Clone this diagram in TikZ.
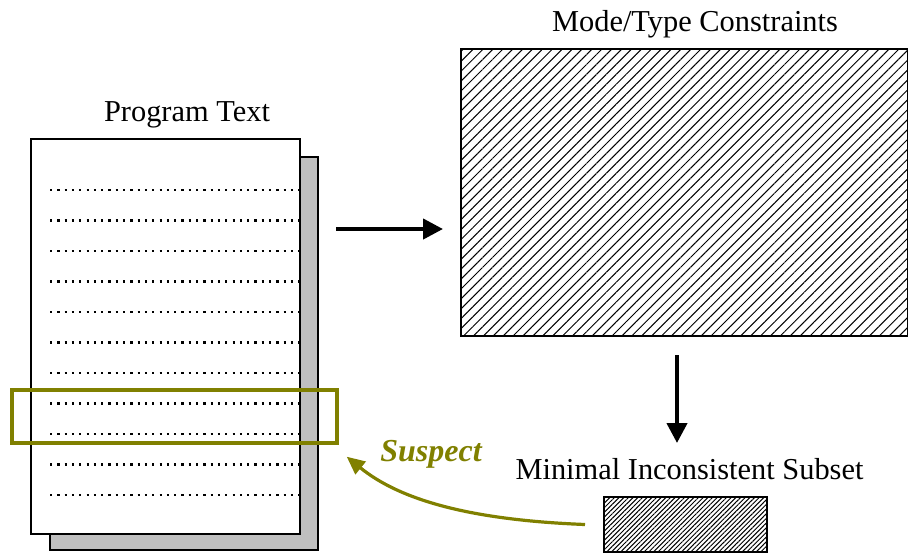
\documentclass[tikz,border=0pt]{standalone}
\usepackage{fontspec}
\setmainfont{Liberation Serif}
\usepackage{xcolor}
\usepackage{tikz}
\usetikzlibrary{arrows.meta, patterns.meta}
\definecolor{suspectcol}{RGB}{128,128,0}

\begin{document}
\begin{tikzpicture}[x=0.5pt, y=-0.5pt]
\tikzstyle{label}=[font=\fontsize{15.2}{18}\selectfont, inner sep=0pt, anchor=base]
\tikzstyle{sheet}=[draw, line width=1pt, inner sep=0pt, outer sep=0pt, minimum width=134.5pt, minimum height=197.5pt]
\tikzstyle{hatchbox}=[draw, line width=1pt, inner sep=0pt, outer sep=0pt]
\tikzstyle{dotline}=[line width=1.1pt, dash pattern=on 1.1pt off 2.55pt]
\tikzstyle{bigarrow}=[line width=2.1pt, -{Triangle[length=10pt, width=10pt]}]
\tikzstyle{suspectarrow}=[suspectcol, line width=1.6pt, -{Triangle[length=9pt, width=8pt]}]
\useasboundingbox (0,0) rectangle (908,552);

% program text pages
\node[sheet, fill=gray!50, minimum width=134pt, minimum height=196.5pt] (shadow) at (184,353.5) {};
\node[sheet, fill=white] (page) at (165.5,336.5) {};
\node[label] (ptext) at (187,121) {Program Text};
\foreach \i in {0,...,10}
  \draw[dotline] (50,190+30.5*\i) -- (300,190+30.5*\i);

% suspect lines
\node[draw=suspectcol, line width=1.7pt, inner sep=0pt, minimum width=162.5pt, minimum height=26.5pt] (suspbox) at (174.5,416.5) {};

% constraints
\node[hatchbox, pattern={Lines[angle=45, distance=3.5pt, line width=0.5pt]}, minimum width=223.5pt, minimum height=143.5pt] (cons) at (684.5,192.5) {};
\node[label] (ctext) at (695,31) {Mode/Type Constraints};

% minimal subset
\node[hatchbox, pattern={Lines[angle=45, distance=1.65pt, line width=0.5pt]}, minimum width=81.5pt, minimum height=27.5pt] (subset) at (685.5,524.5) {};
\node[label] (stext) at (689.5,479) {Minimal Inconsistent Subset};
\node[label, font=\fontsize{16}{18}\selectfont\bfseries\itshape, text=suspectcol] (susp) at (431,461) {Suspect};

\coordinate (a1) at (336,229);
\coordinate (d1) at (677,355);
\coordinate (d2) at (677,443);
\draw[bigarrow] (a1) -- ([xshift=-9pt]a1 -| cons.west);
\draw[bigarrow] (d1) -- (d2);
\draw[suspectarrow] ([xshift=-9.5pt]subset.west) .. controls (470,520) and (400,500) .. ([xshift=4pt, yshift=-6pt]suspbox.south east);

\end{tikzpicture}
\end{document}
